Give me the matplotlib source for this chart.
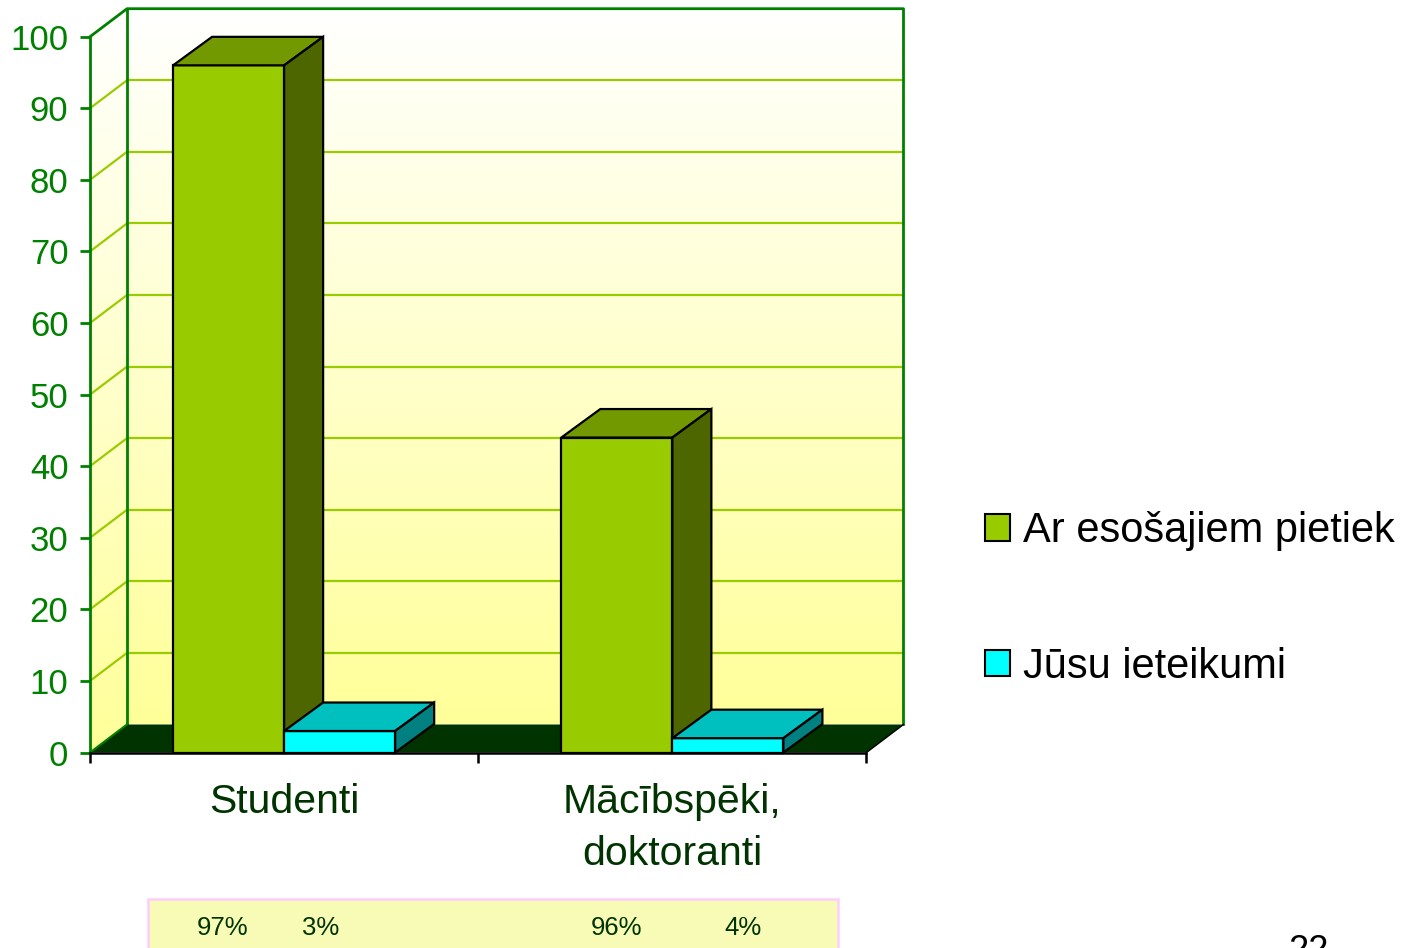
import numpy as np
import matplotlib
matplotlib.use('Agg')
import matplotlib.pyplot as plt
from matplotlib.patches import Polygon, Rectangle, Patch
from matplotlib.colors import to_rgb

# ---------------- data ----------------
categories = ['Studenti', 'Mācībspēki,\ndoktoranti']
series_names = ['Ar esošajiem pietiek', 'Jūsu ieteikumi']
values_pietiek = [96, 44]
values_ieteikumi = [3, 2]
table_labels = ['97%', '3%', '96%', '4%']
yticks = list(range(0, 101, 10))
page_number = '22'

# ---------------- style ----------------
plt.rcParams['font.family'] = ['Liberation Sans', 'DejaVu Sans']
front_cols = ['#99CC00', '#00FFFF']
top_cols = ['#739900', '#00BFBF']
side_cols = ['#4D6600', '#008080']
axis_green = '#008000'
grid_col = '#99CC00'
floor_col = '#003300'
label_col = '#003300'

W, H = 1414, 948
fig = plt.figure(figsize=(W / 100, H / 100), dpi=100)
fig.patch.set_facecolor('white')

x0, x1 = 90, 866.5
y0, y1 = 752.5, 36.7
ax = fig.add_axes([x0 / W, (H - y0) / H, (x1 - x0) / W, (y0 - y1) / H])
ax.patch.set_visible(False)
pxx = (x1 - x0) / 2.0
pxy = (y0 - y1) / 100.0
WDX, WDY = 37 / pxx, 28 / pxy
BDX, BDY = 39 / pxx, 28.5 / pxy
ncat = len(categories)

# gradient walls
top_c = np.array(to_rgb('#FFFFFF'))
bot_c = np.array(to_rgb('#FFFF99'))
t = np.linspace(0, 1, 256)[:, None, None]
grad = top_c[None, None, :] * (1 - t) + bot_c[None, None, :] * t
ax.imshow(grad, extent=[WDX, ncat + WDX, WDY, 100 + WDY], aspect='auto',
          clip_on=False, zorder=0, interpolation='bilinear')
left_img = ax.imshow(grad, extent=[0, WDX, 0, 100 + WDY], aspect='auto',
                     clip_on=False, zorder=0, interpolation='bilinear')
left_poly = Polygon([(0, 0), (WDX, WDY), (WDX, 100 + WDY), (0, 100)],
                    closed=True, transform=ax.transData, facecolor='none', edgecolor='none')
ax.add_patch(left_poly)
left_img.set_clip_path(left_poly)

# gridlines
for v in yticks[1:-1]:
    ax.plot([WDX, ncat + WDX], [v + WDY, v + WDY], color=grid_col, lw=1.6, zorder=1, clip_on=False)
    ax.plot([0, WDX], [v, v + WDY], color=grid_col, lw=1.6, zorder=1, clip_on=False)

# wall edges
ymax = yticks[-1]
ax.plot([0, WDX, ncat + WDX, ncat + WDX], [ymax, ymax + WDY, ymax + WDY, WDY],
        color=axis_green, lw=2.0, zorder=1.5, clip_on=False)
ax.plot([WDX, WDX], [WDY, ymax + WDY], color=axis_green, lw=2.0, zorder=1.5, clip_on=False)

# floor
ax.add_patch(Polygon([(0, 0), (WDX, WDY), (ncat + WDX, WDY), (ncat, 0)], closed=True,
                     facecolor=floor_col, edgecolor='none', zorder=2, clip_on=False))
ax.plot([0, WDX], [0, WDY], color=axis_green, lw=1.5, zorder=2.1, clip_on=False)
ax.plot([ncat, ncat + WDX], [0, WDY], color='black', lw=1.0, zorder=2.1, clip_on=False)

# bars
bw = 0.286
series = [values_pietiek, values_ieteikumi]
z = 3
for i in range(ncat):
    for j, vals in enumerate(series):
        v = vals[i]
        l = i + 0.5 - bw + j * bw
        r = l + bw
        kw = dict(edgecolor='black', lw=1.6, joinstyle='miter', clip_on=False)
        ax.add_patch(Polygon([(l, 0), (r, 0), (r, v), (l, v)], closed=True,
                             facecolor=front_cols[j], zorder=z, **kw))
        ax.add_patch(Polygon([(l, v), (r, v), (r + BDX, v + BDY), (l + BDX, v + BDY)], closed=True,
                             facecolor=top_cols[j], zorder=z, **kw))
        ax.add_patch(Polygon([(r, 0), (r + BDX, BDY), (r + BDX, v + BDY), (r, v)], closed=True,
                             facecolor=side_cols[j], zorder=z, **kw))
        z += 1

ax.set_xlim(0, ncat)
ax.set_ylim(0, 100)

# axes
for s in ['top', 'right']:
    ax.spines[s].set_visible(False)
ax.spines['left'].set_color(axis_green)
ax.spines['left'].set_linewidth(2.0)
ax.spines['left'].set_zorder(20)
ax.spines['bottom'].set_color('black')
ax.spines['bottom'].set_linewidth(1.8)
ax.spines['bottom'].set_zorder(20)
ax.set_yticks(yticks)
ax.set_yticklabels([str(v) for v in yticks])
ax.tick_params(axis='y', direction='out', length=7.5, width=2.0, color=axis_green,
               labelcolor=axis_green, labelsize=25, pad=8.0)
ax.set_xticks(range(ncat + 1))
ax.set_xticklabels([''] * (ncat + 1))
ax.tick_params(axis='x', direction='out', length=7.5, width=1.8, color='black')

# category labels: each line placed by its baseline
line_gap = 52 / pxy
for i, cat in enumerate(categories):
    for k, line in enumerate(cat.split('\n')):
        ax.text(i + 0.5, -8.45 - k * line_gap, line, ha='center', va='baseline', fontsize=29.5,
                color=label_col, clip_on=False)

# legend
handles = [Patch(facecolor=front_cols[j], edgecolor='black', lw=1.5) for j in range(2)]
fig.legend(handles=handles, labels=series_names, loc='center left',
           bbox_to_anchor=(985 / W, (H - 599) / H), frameon=False, fontsize=30,
           handlelength=0.6, handleheight=0.6, handletextpad=0.32,
           labelspacing=2.3, borderaxespad=0, borderpad=0)

# data table strip at bottom
fig.add_artist(Rectangle((148 / W, -0.02), (838 - 148) / W, (H - 899) / H + 0.02,
                         transform=fig.transFigure, facecolor='#F8FBB6',
                         edgecolor='#FFCCFF', lw=1.8))
table_x = [223, 321, 617, 743]
for tx, lab in zip(table_x, table_labels):
    fig.text(tx / W, (H - 935) / H, lab, ha='center', va='baseline', fontsize=18.5, color=label_col)

fig.text(1308 / W, (H - 961) / H, page_number, ha='center', va='baseline', fontsize=26, color='black')

fig.savefig('out.png', dpi=100, facecolor='white')
